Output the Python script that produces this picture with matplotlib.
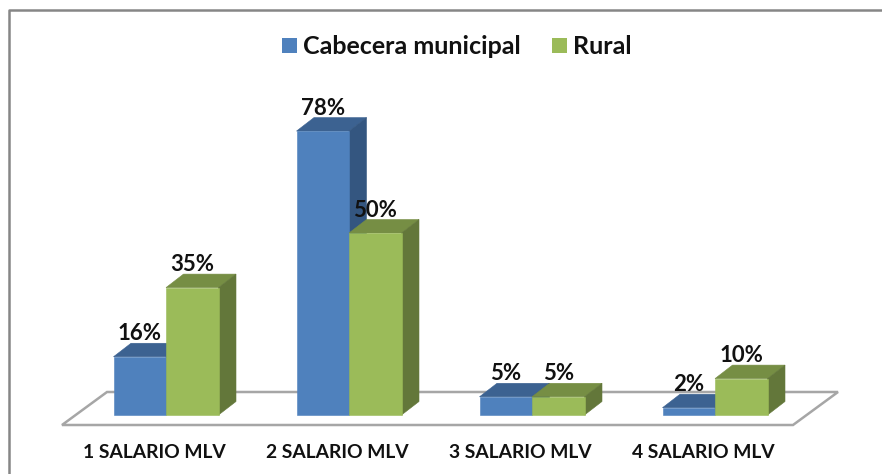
import numpy as np
import matplotlib
matplotlib.use("Agg")
import matplotlib.pyplot as plt
from matplotlib.patches import Polygon, Rectangle

plt.rcParams['font.family'] = ['Lato', 'DejaVu Sans']

categories = ["1 SALARIO MLV", "2 SALARIO MLV", "3 SALARIO MLV", "4 SALARIO MLV"]
cabecera = [16, 78, 5, 2]
rural = [35, 50, 5, 10]

W, H = 882, 474
GREY = "#868686"
PX = 3.64               # pixels per percent
BAR_W = 52.5 / 183      # in category units
DX = 17.5 / 183         # depth of the 3d bars, category units
DY = 13.5 / PX          # same, in percent units

fig = plt.figure(figsize=(W / 100, H / 100), dpi=100)
fig.patch.set_facecolor("white")

# category 0 sits at px 166, step 183 px; 0% at py 415
ax = fig.add_axes([0, 0, 1, 1])
ax.set_xlim(-166 / 183, (W - 166) / 183)
ax.set_ylim(-(H - 415) / PX, 415 / PX)
ax.axis("off")

# outer frame, open at the right and bottom
fig.add_artist(plt.Line2D([8.5 / W, 8.5 / W, 1], [0, 1 - 10 / H, 1 - 10 / H], color=GREY, lw=1.8))

# floor
fx0, fx1 = -104 / 183, 627 / 183
bk0, bk1 = -59 / 183, 672 / 183
fy, by = -10 / PX, 23 / PX
ax.add_patch(Polygon([(fx0, fy), (fx1, fy), (bk1, by), (bk0, by)], closed=True,
                     facecolor="white", edgecolor="#A6A6A6", lw=1.8, zorder=1))


def bar3d(x, v, front, top, side, z):
    ax.add_patch(Polygon([(x, v), (x + BAR_W, v), (x + BAR_W + DX, v + DY), (x + DX, v + DY)],
                         facecolor=top, edgecolor=top, lw=0.4, zorder=z))
    ax.add_patch(Polygon([(x + BAR_W, 0), (x + BAR_W + DX, DY), (x + BAR_W + DX, v + DY), (x + BAR_W, v)],
                         facecolor=side, edgecolor=side, lw=0.4, zorder=z))
    ax.add_patch(Rectangle((x, 0), BAR_W, v, facecolor=front, edgecolor=front, lw=0.4, zorder=z + 0.1))


for i in range(len(categories)):
    bar3d(i - BAR_W, cabecera[i], "#4F81BD", "#3C6291", "#345680", 2 + i)
    bar3d(i, rural[i], "#9BBB59", "#768E44", "#63773A", 2.5 + i)
    ax.text(i - BAR_W / 2, cabecera[i] + DY + 2.6, f"{cabecera[i]}%", ha="center", va="center",
            fontsize=16, fontweight="bold", color="#111111", zorder=20)
    ax.text(i + BAR_W / 2, rural[i] + DY + 2.6, f"{rural[i]}%", ha="center", va="center",
            fontsize=16, fontweight="bold", color="#111111", zorder=20)
    ax.text(i - 12 / 183, -38 / PX, categories[i], ha="center", va="center",
            fontsize=13.9, fontweight="bold", color="#111111")

# legend drawn by hand to keep the spacing of the original
fig.patches.append(Rectangle((281.5 / W, 1 - 53 / H), 15 / W, 15 / H, transform=fig.transFigure,
                             facecolor="#4F81BD", edgecolor="none"))
fig.patches.append(Rectangle((551.5 / W, 1 - 53 / H), 15 / W, 15 / H, transform=fig.transFigure,
                             facecolor="#9BBB59", edgecolor="none"))
fig.text(303 / W, 1 - 47 / H, "Cabecera municipal", ha="left", va="center",
         fontsize=18, fontweight="bold", color="#111111")
fig.text(573 / W, 1 - 47 / H, "Rural", ha="left", va="center",
         fontsize=18, fontweight="bold", color="#111111")

fig.savefig("out.png", dpi=100, facecolor="white")
